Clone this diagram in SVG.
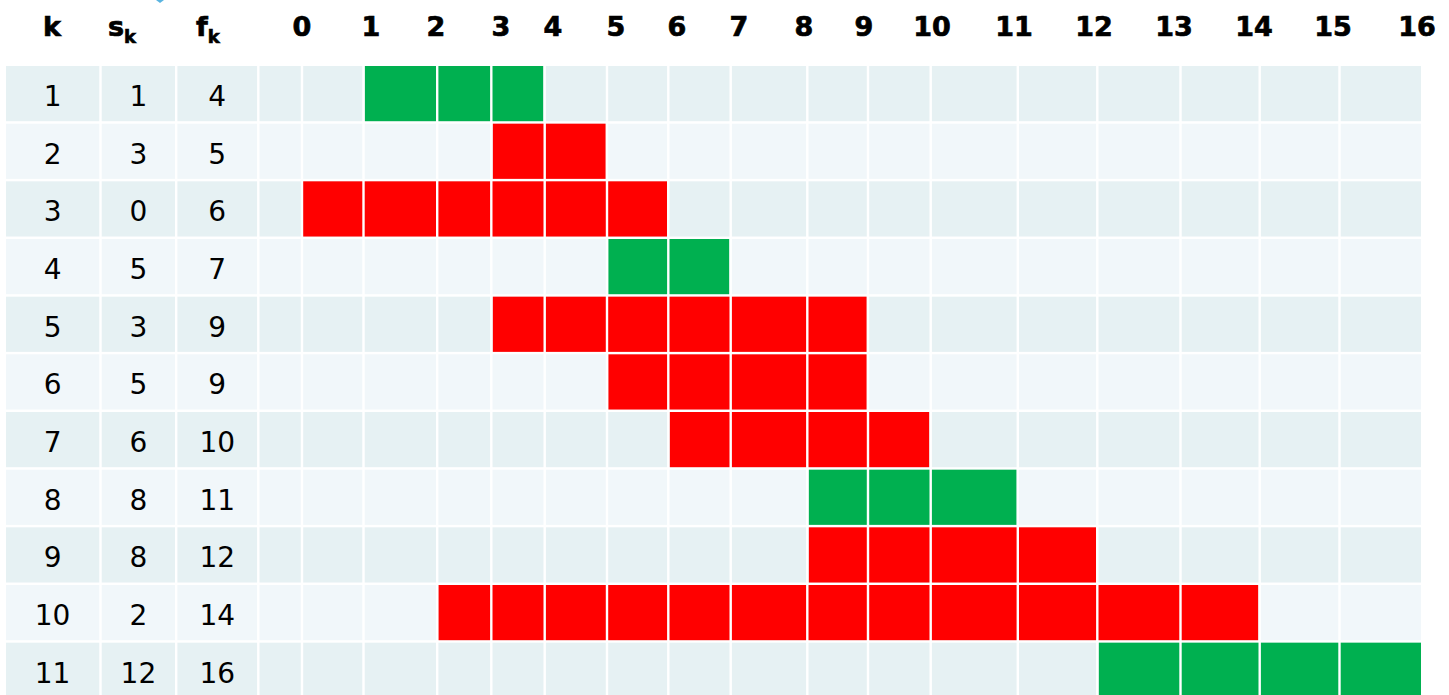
<svg xmlns="http://www.w3.org/2000/svg" width="1449" height="695" viewBox="0 0 1449 695">
<style>
.hd{font-family:"DejaVu Sans",Verdana,sans-serif;font-weight:bold;font-size:27px;fill:#000;stroke:#000;stroke-width:0.7;text-anchor:middle}
.sub{font-size:18px}
.dt{font-family:"DejaVu Sans",Tahoma,sans-serif;font-size:28px;fill:#000;text-anchor:middle}
.odd{fill:#E6F1F3}
.even{fill:#F1F7FA}
.g{fill:#00B050}
.r{fill:#FF0000}
.sep{stroke:#FFFFFF;stroke-width:2.4}
</style>
<rect x="0" y="0" width="1449" height="695" fill="#FFFFFF"/>
<polygon points="156,0 164,0 160,3" fill="#5AB4E0"/>
<g id="header">
<text class="hd" x="52" y="36">k</text>
<text class="hd" x="108" y="36" style="text-anchor:start">s<tspan class="sub" dy="7">k</tspan></text>
<text class="hd" x="196" y="36" style="text-anchor:start">f<tspan class="sub" dy="7">k</tspan></text>
<text class="hd" x="302" y="36">0</text>
<text class="hd" x="371" y="36">1</text>
<text class="hd" x="436" y="36">2</text>
<text class="hd" x="501" y="36">3</text>
<text class="hd" x="553" y="36">4</text>
<text class="hd" x="616" y="36">5</text>
<text class="hd" x="677" y="36">6</text>
<text class="hd" x="739" y="36">7</text>
<text class="hd" x="804" y="36">8</text>
<text class="hd" x="864" y="36">9</text>
<text class="hd" x="932" y="36">10</text>
<text class="hd" x="1014" y="36">11</text>
<text class="hd" x="1094" y="36">12</text>
<text class="hd" x="1174" y="36">13</text>
<text class="hd" x="1254" y="36">14</text>
<text class="hd" x="1333" y="36">15</text>
<text class="hd" x="1417" y="36">16</text>
</g>
<g id="row1"><rect class="odd" x="6" y="66" width="1415" height="55.2"/><rect class="g" x="364.7" y="66" width="178.6" height="55.2"/>
<text class="dt" x="52.6" y="106">1</text><text class="dt" x="138.4" y="106">1</text><text class="dt" x="217.2" y="106">4</text></g>
<g id="row2"><rect class="even" x="6" y="123.67" width="1415" height="55.2"/><rect class="r" x="492.7" y="123.67" width="113" height="55.2"/>
<text class="dt" x="52.6" y="163.7">2</text><text class="dt" x="138.4" y="163.7">3</text><text class="dt" x="217.2" y="163.7">5</text></g>
<g id="row3"><rect class="odd" x="6" y="181.33" width="1415" height="55.2"/><rect class="r" x="303" y="181.33" width="364" height="55.2"/>
<text class="dt" x="52.6" y="221.3">3</text><text class="dt" x="138.4" y="221.3">0</text><text class="dt" x="217.2" y="221.3">6</text></g>
<g id="row4"><rect class="even" x="6" y="239" width="1415" height="55.2"/><rect class="g" x="608.3" y="239" width="121" height="55.2"/>
<text class="dt" x="52.6" y="279">4</text><text class="dt" x="138.4" y="279">5</text><text class="dt" x="217.2" y="279">7</text></g>
<g id="row5"><rect class="odd" x="6" y="296.67" width="1415" height="55.2"/><rect class="r" x="492.7" y="296.67" width="374" height="55.2"/>
<text class="dt" x="52.6" y="336.7">5</text><text class="dt" x="138.4" y="336.7">3</text><text class="dt" x="217.2" y="336.7">9</text></g>
<g id="row6"><rect class="even" x="6" y="354.33" width="1415" height="55.2"/><rect class="r" x="608.3" y="354.33" width="258.4" height="55.2"/>
<text class="dt" x="52.6" y="394.3">6</text><text class="dt" x="138.4" y="394.3">5</text><text class="dt" x="217.2" y="394.3">9</text></g>
<g id="row7"><rect class="odd" x="6" y="412" width="1415" height="55.2"/><rect class="r" x="669.7" y="412" width="259.6" height="55.2"/>
<text class="dt" x="52.6" y="452">7</text><text class="dt" x="138.4" y="452">6</text><text class="dt" x="217.2" y="452">10</text></g>
<g id="row8"><rect class="even" x="6" y="469.67" width="1415" height="55.2"/><rect class="g" x="808.7" y="469.67" width="208" height="55.2"/>
<text class="dt" x="52.6" y="509.7">8</text><text class="dt" x="138.4" y="509.7">8</text><text class="dt" x="217.2" y="509.7">11</text></g>
<g id="row9"><rect class="odd" x="6" y="527.33" width="1415" height="55.2"/><rect class="r" x="808.7" y="527.33" width="287.3" height="55.2"/>
<text class="dt" x="52.6" y="567.3">9</text><text class="dt" x="138.4" y="567.3">8</text><text class="dt" x="217.2" y="567.3">12</text></g>
<g id="row10"><rect class="even" x="6" y="585" width="1415" height="55.2"/><rect class="r" x="438.3" y="585" width="820" height="55.2"/>
<text class="dt" x="52.6" y="625">10</text><text class="dt" x="138.4" y="625">2</text><text class="dt" x="217.2" y="625">14</text></g>
<g id="row11"><rect class="odd" x="6" y="642.67" width="1415" height="56"/><rect class="g" x="1098.7" y="642.67" width="322.3" height="56"/>
<text class="dt" x="52.6" y="682.7">11</text><text class="dt" x="138.4" y="682.7">12</text><text class="dt" x="217.2" y="682.7">16</text></g>
<g id="grid-lines" class="sep">
<line x1="100.5" y1="60" x2="100.5" y2="695"/><line x1="176.2" y1="60" x2="176.2" y2="695"/>
<line x1="258.3" y1="60" x2="258.3" y2="695"/><line x1="302" y1="60" x2="302" y2="695"/>
<line x1="363.5" y1="60" x2="363.5" y2="695"/><line x1="437.2" y1="60" x2="437.2" y2="695"/>
<line x1="491.3" y1="60" x2="491.3" y2="695"/><line x1="544.7" y1="60" x2="544.7" y2="695"/>
<line x1="607" y1="60" x2="607" y2="695"/><line x1="668.3" y1="60" x2="668.3" y2="695"/>
<line x1="730.7" y1="60" x2="730.7" y2="695"/><line x1="807.3" y1="60" x2="807.3" y2="695"/>
<line x1="868" y1="60" x2="868" y2="695"/><line x1="930.7" y1="60" x2="930.7" y2="695"/>
<line x1="1017.8" y1="60" x2="1017.8" y2="695"/><line x1="1097.3" y1="60" x2="1097.3" y2="695"/>
<line x1="1180.5" y1="60" x2="1180.5" y2="695"/><line x1="1259.7" y1="60" x2="1259.7" y2="695"/>
<line x1="1339.5" y1="60" x2="1339.5" y2="695"/>
</g>
</svg>
